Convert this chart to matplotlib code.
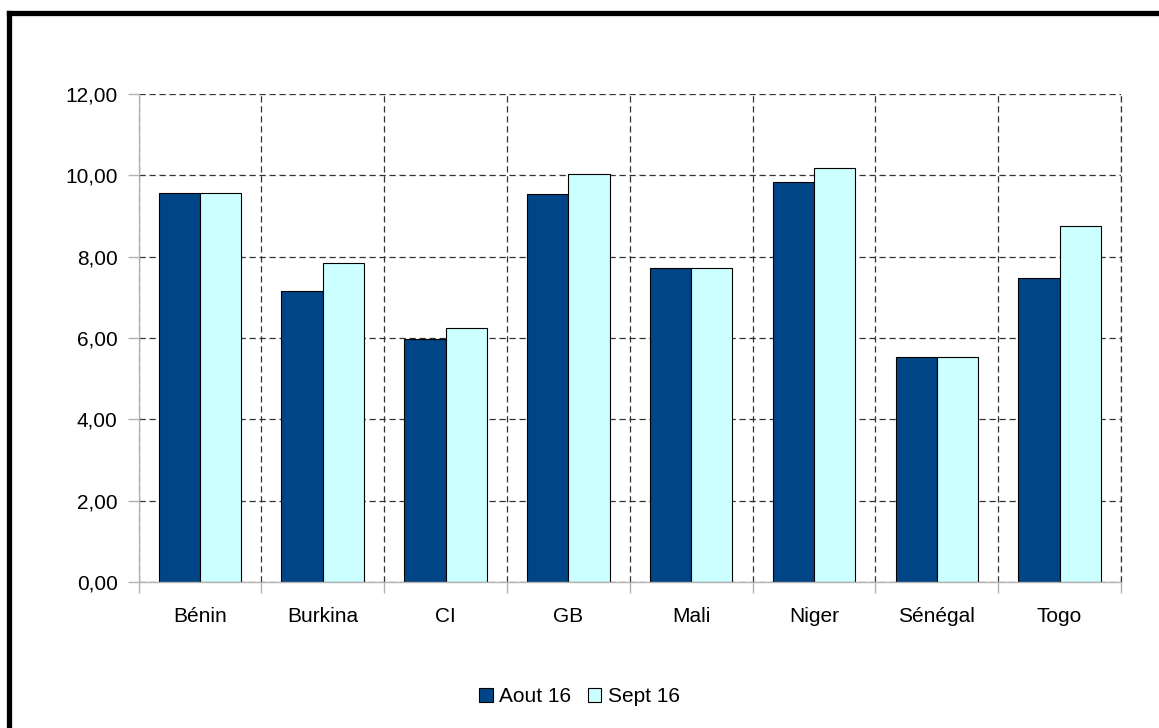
import numpy as np
import matplotlib
matplotlib.use("Agg")
from matplotlib import pyplot as plt
from matplotlib.lines import Line2D

pays = ["Bénin", "Burkina", "CI", "GB", "Mali", "Niger", "Sénégal", "Togo"]
aout16 = [9.56, 7.16, 5.97, 9.53, 7.73, 9.83, 5.53, 7.48]
sept16 = [9.56, 7.84, 6.24, 10.03, 7.73, 10.18, 5.53, 8.75]
yticks = [0, 2, 4, 6, 8, 10, 12]

plt.rcParams['font.family'] = ['Liberation Sans', 'DejaVu Sans']
plt.rcParams['font.size'] = 15

fig = plt.figure(figsize=(11.59, 7.28), dpi=100)
ax = fig.add_axes([0.1195, 0.2005, 0.8477, 0.6703])

x = np.arange(len(pays))
w = 0.336
ax.bar(x - w/2, aout16, w, color="#004586", edgecolor="black", linewidth=0.8,
       label="Aout 16", zorder=3)
ax.bar(x + w/2, sept16, w, color="#ccffff", edgecolor="black", linewidth=0.8,
       label="Sept 16", zorder=3)

ax.set_xlim(-0.5, len(pays) - 0.5)
ax.set_ylim(0, 12)
ax.set_yticks(yticks)
ax.set_yticklabels([("%.2f" % v).replace(".", ",") for v in yticks])
ax.set_xticks(x)
ax.set_xticklabels(pays)
ax.set_xticks(np.arange(len(pays) + 1) - 0.5, minor=True)

ax.tick_params(axis="x", which="major", length=0, pad=18)
ax.tick_params(axis="x", which="minor", length=8, color="#b3b3b3", width=1)
ax.tick_params(axis="y", length=8, color="#b3b3b3", width=1, pad=7)

# grille pointillée
dash = (0, (5, 3))
ax.grid(axis="y", which="major", color="#333333", linestyle=dash, linewidth=0.9, zorder=1)
ax.grid(axis="x", which="minor", color="#333333", linestyle=dash, linewidth=0.9, zorder=1)
ax.grid(axis="x", which="major", visible=False)
ax.axvline(len(pays) - 0.5, color="#333333", linestyle=dash, linewidth=0.9, clip_on=False, zorder=1)

for s in ["top", "right"]:
    ax.spines[s].set_visible(False)
for s in ["left", "bottom"]:
    ax.spines[s].set_color("#b3b3b3")
    ax.spines[s].set_linewidth(1)
    ax.spines[s].set_zorder(4)

ax.legend(loc="center", bbox_to_anchor=(0.5, 1 - 697/728), bbox_transform=fig.transFigure,
          ncol=2, frameon=False, handlelength=0.65, handleheight=0.65,
          handletextpad=0.3, columnspacing=0.8)

# cadre noir (gauche et haut)
fig.add_artist(Line2D([8.5/1159, 8.5/1159], [0, 1 - 12.5/728], color="black", linewidth=3.8,
                      transform=fig.transFigure, solid_capstyle="projecting"))
fig.add_artist(Line2D([8.5/1159, 1], [1 - 12.5/728, 1 - 12.5/728], color="black", linewidth=3.8,
                      transform=fig.transFigure, solid_capstyle="projecting"))

fig.savefig("out.png", dpi=100)
